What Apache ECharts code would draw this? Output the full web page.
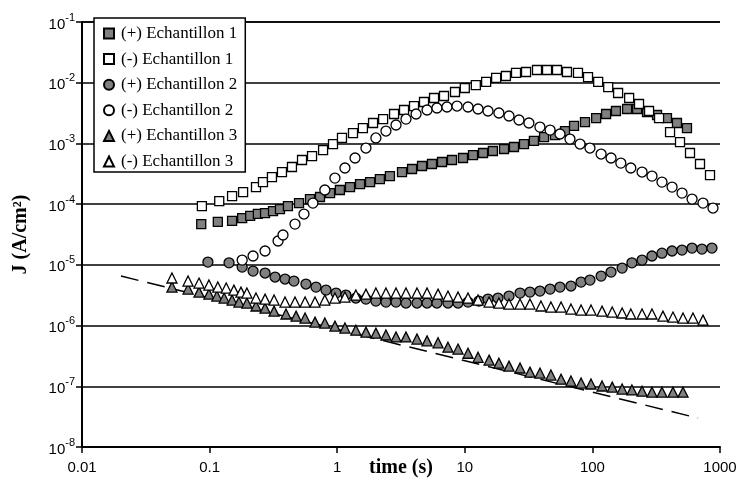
<!DOCTYPE html>
<html><head><meta charset="utf-8">
<script src="https://cdn.jsdelivr.net/npm/echarts/dist/echarts.min.js"></script>
<style>html,body{margin:0;padding:0;background:#fff}#c{width:739px;height:478px}</style>
</head><body><div id="c"></div>
<script>
// ---- data ----
var seriesNames = ['(+) Echantillon 1','(-) Echantillon 1','(+) Echantillon 2','(-) Echantillon 2','(+) Echantillon 3','(-) Echantillon 3'];
var xTickLabels = ['0.01','0.1','1','10','100','1000'];
var yTickExp = ['-8','-7','-6','-5','-4','-3','-2','-1'];

var s1p_t = [0.086,0.116,0.150,0.180,0.208,0.239,0.272,0.314,0.356,0.411,0.502,0.612,0.733,0.879,1.05,1.26,1.51,1.81,2.16,2.59,3.22,3.86,4.62,5.53,6.63,7.94,9.68,11.6,13.9,16.6,20.3,24.3,29.1,34.8,41.8,50.9,61.0,71.8,87.5,107,128,153,187,224,268,321,384,460,551];
var s1p_j = [4.7e-5,5.1e-5,5.3e-5,5.9e-5,6.4e-5,6.9e-5,7.1e-5,7.7e-5,8.3e-5,9.3e-5,1.04e-4,1.21e-4,1.31e-4,1.52e-4,1.71e-4,1.91e-4,2.14e-4,2.31e-4,2.59e-4,2.90e-4,3.38e-4,3.79e-4,4.25e-4,4.58e-4,4.94e-4,5.33e-4,5.75e-4,6.44e-4,6.95e-4,7.50e-4,8.09e-4,8.73e-4,9.77e-4,1.10e-3,1.27e-3,1.37e-3,1.60e-3,1.94e-3,2.25e-3,2.62e-3,3.05e-3,3.42e-3,3.69e-3,3.69e-3,3.29e-3,2.94e-3,2.62e-3,2.17e-3,1.79e-3];

var s1m_t = [0.087,0.119,0.150,0.183,0.231,0.262,0.308,0.369,0.442,0.530,0.635,0.775,0.927,1.09,1.33,1.59,1.91,2.29,2.79,3.34,4.00,4.79,5.74,6.87,8.38,10.0,12.2,14.7,17.6,21.0,25.2,30.2,36.8,44.1,52.8,63.2,77.1,92.4,111,133,159,194,232,278,333,406,486,582,697,835];
var s1m_j = [9.3e-5,1.12e-4,1.36e-4,1.58e-4,1.91e-4,2.31e-4,2.79e-4,3.38e-4,4.09e-4,5.33e-4,6.20e-4,7.78e-4,9.77e-4,1.23e-3,1.48e-3,1.79e-3,2.17e-3,2.52e-3,3.05e-3,3.55e-3,4.13e-3,4.81e-3,5.60e-3,6.04e-3,7.03e-3,8.18e-3,9.16e-3,1.03e-2,1.20e-2,1.29e-2,1.45e-2,1.50e-2,1.62e-2,1.62e-2,1.62e-2,1.50e-2,1.45e-2,1.24e-2,1.03e-2,8.49e-3,6.77e-3,5.60e-3,4.46e-3,3.42e-3,2.62e-3,1.54e-3,1.05e-3,6.95e-4,4.58e-4,3.01e-4];

var s2p_t = [0.097,0.142,0.180,0.219,0.272,0.326,0.390,0.458,0.569,0.682,0.817,0.979,1.17,1.40,1.68,2.01,2.41,2.89,3.46,4.22,5.06,6.05,7.38,8.85,10.6,12.9,15.2,18.2,22.2,27.1,32.4,38.8,46.6,55.7,67.9,81.5,95.7,117,140,171,204,245,293,351,421,504,604,722,865];
var s2p_j = [1.11e-5,1.08e-5,9.2e-6,7.9e-6,7.33e-6,6.3e-6,5.84e-6,5.41e-6,4.83e-6,4.31e-6,3.84e-6,3.43e-6,3.18e-6,2.84e-6,2.73e-6,2.53e-6,2.44e-6,2.44e-6,2.35e-6,2.35e-6,2.35e-6,2.35e-6,2.35e-6,2.35e-6,2.44e-6,2.53e-6,2.73e-6,2.84e-6,3.06e-6,3.43e-6,3.56e-6,3.70e-6,3.99e-6,4.31e-6,4.48e-6,5.21e-6,5.62e-6,6.54e-6,7.60e-6,8.85e-6,1.08e-5,1.20e-5,1.40e-5,1.56e-5,1.69e-5,1.75e-5,1.89e-5,1.82e-5,1.89e-5];

var s2m_t = [0.180,0.219,0.272,0.344,0.376,0.467,0.549,0.645,0.80,0.96,1.15,1.38,1.68,2.01,2.41,2.89,3.46,4.15,5.06,6.05,7.25,8.69,10.6,12.7,15.2,18.5,22.2,26.6,31.8,38.8,46.6,55.7,66.7,80.0,95.7,117,140,167,200,245,293,351,421,504,604,736,881];
var s2m_j = [1.20e-5,1.40e-5,1.69e-5,2.47e-5,3.10e-5,4.70e-5,6.87e-5,1.04e-4,1.71e-4,2.69e-4,3.94e-4,5.75e-4,8.40e-4,1.23e-3,1.60e-3,2.01e-3,2.52e-3,3.05e-3,3.55e-3,3.83e-3,3.98e-3,4.13e-3,3.98e-3,3.69e-3,3.42e-3,3.17e-3,2.83e-3,2.43e-3,2.17e-3,1.86e-3,1.66e-3,1.43e-3,1.18e-3,9.77e-4,8.40e-4,6.69e-4,5.75e-4,4.75e-4,3.94e-4,3.38e-4,2.90e-4,2.31e-4,1.91e-4,1.52e-4,1.21e-4,1.04e-4,8.63e-5];

var s3p_t = [0.0507,0.0678,0.0826,0.0988,0.114,0.130,0.150,0.170,0.196,0.231,0.272,0.320,0.397,0.476,0.560,0.670,0.80,0.96,1.15,1.40,1.68,2.01,2.41,2.89,3.46,4.22,5.06,6.17,7.38,8.85,10.6,12.7,15.5,18.5,22.2,27.1,32.4,38.8,47.3,56.8,67.9,81.5,97.5,119,143,171,204,245,293,351,428,513];
var s3p_j = [4.31e-6,3.99e-6,3.56e-6,3.30e-6,3.06e-6,2.84e-6,2.63e-6,2.44e-6,2.35e-6,2.10e-6,1.94e-6,1.73e-6,1.55e-6,1.43e-6,1.33e-6,1.14e-6,1.10e-6,9.8e-7,9.1e-7,8.4e-7,7.8e-7,7.5e-7,7.0e-7,6.5e-7,6.5e-7,6.0e-7,5.6e-7,5.2e-7,4.4e-7,4.1e-7,3.5e-7,3.0e-7,2.7e-7,2.4e-7,2.15e-7,2.0e-7,1.71e-7,1.65e-7,1.53e-7,1.31e-7,1.22e-7,1.13e-7,1.09e-7,1.01e-7,9.7e-8,9.0e-8,8.7e-8,8.3e-8,8.0e-8,8.0e-8,8.0e-8,8.0e-8];

var s3m_t = [0.0507,0.0678,0.0826,0.0988,0.116,0.135,0.155,0.176,0.196,0.231,0.272,0.320,0.390,0.467,0.560,0.670,0.80,0.96,1.15,1.40,1.68,2.01,2.41,2.89,3.46,4.22,5.06,6.17,7.38,8.85,10.6,12.7,15.5,18.5,22.2,27.1,32.4,39.5,47.3,56.8,67.9,81.5,97.5,119,143,171,200,245,293,357,428,513,614,736];
var s3m_j = [6.07e-6,5.41e-6,5.01e-6,4.65e-6,4.31e-6,4.15e-6,3.84e-6,3.56e-6,3.43e-6,2.84e-6,2.73e-6,2.63e-6,2.44e-6,2.44e-6,2.44e-6,2.44e-6,2.63e-6,2.84e-6,2.95e-6,3.18e-6,3.30e-6,3.43e-6,3.43e-6,3.43e-6,3.43e-6,3.43e-6,3.43e-6,3.30e-6,3.06e-6,2.95e-6,2.84e-6,2.63e-6,2.44e-6,2.35e-6,2.26e-6,2.26e-6,2.26e-6,2.10e-6,2.02e-6,2.02e-6,1.87e-6,1.80e-6,1.80e-6,1.73e-6,1.67e-6,1.61e-6,1.55e-6,1.55e-6,1.55e-6,1.43e-6,1.38e-6,1.33e-6,1.33e-6,1.23e-6];

var fit_t = [0.0202, 673];
var fit_j = [6.54e-6, 2.99e-8];

// ---- chart ----
function zip(t, j) { return t.map(function (x, i) { return [x, j[i]]; }); }
var GRAY = '#808080';
function sc(name, t, j, symbol, size, fill) {
  return {
    type: 'scatter', name: name, data: zip(t, j), symbol: symbol, symbolSize: size,
    itemStyle: { color: fill, borderColor: '#000', borderWidth: 1.3, opacity: 1 },
    emphasis: { disabled: true }, animation: false
  };
}
var serif = '"Liberation Serif","Times New Roman",serif';
var sans = '"Liberation Sans",Arial,sans-serif';

var chart = echarts.init(document.getElementById('c'), null, { renderer: 'canvas' });
chart.setOption({
  backgroundColor: '#fff',
  animation: false,
  grid: { left: 82, right: 19, top: 22, bottom: 31, containLabel: false, outerBoundsMode: 'none' },
  legend: {
    data: seriesNames, orient: 'vertical', left: 94, top: 18,
    itemWidth: 10, itemHeight: 10, itemGap: 8.6,
    padding: [7, 8, 2, 9],
    backgroundColor: '#fff', borderColor: '#000', borderWidth: 1.5,
    selectedMode: false,
    textStyle: { fontFamily: serif, fontSize: 17, color: '#000', padding: [0, 0, 0, 2] }
  },
  xAxis: {
    type: 'log', logBase: 10, min: 0.01, max: 1000, splitNumber: 5,
    name: 'time (s)', nameLocation: 'middle', nameGap: 11, nameMoveOverlap: false,
    nameTextStyle: { fontFamily: serif, fontWeight: 'bold', fontSize: 20, color: '#000', verticalAlign: 'top' },
    axisLine: { show: true, lineStyle: { color: '#000', width: 2 } },
    axisTick: { show: true, length: 6, lineStyle: { color: '#000', width: 1.5 } },
    minorTick: { show: false },
    splitLine: { show: false },
    axisLabel: {
      margin: 13, color: '#000', fontFamily: sans, fontSize: 15,
      formatter: function (v) { return xTickLabels[Math.round(Math.log10(v)) + 2]; }
    }
  },
  yAxis: {
    type: 'log', logBase: 10, min: 1e-8, max: 1e-1, splitNumber: 7,
    name: 'J (A/cm\u00B2)', nameLocation: 'middle', nameGap: 51, nameMoveOverlap: false,
    nameTextStyle: { fontFamily: serif, fontWeight: 'bold', fontSize: 20, color: '#000' },
    axisLine: { show: true, lineStyle: { color: '#000', width: 2 } },
    axisTick: { show: true, length: 6, lineStyle: { color: '#000', width: 1.5 } },
    minorTick: { show: false },
    splitLine: { show: true, lineStyle: { color: '#000', width: 1.5 } },
    axisLabel: {
      margin: 7, color: '#000',
      formatter: function (v) { return '{b|10}{s|' + yTickExp[Math.round(Math.log10(v)) + 8] + '}'; },
      rich: {
        b: { fontFamily: sans, fontSize: 15, color: '#000', lineHeight: 20, verticalAlign: 'bottom' },
        s: { fontFamily: sans, fontSize: 11, color: '#000', lineHeight: 20, verticalAlign: 'top' }
      }
    }
  },
  series: [
    sc(seriesNames[0], s1p_t, s1p_j, 'rect', 9, GRAY),
    sc(seriesNames[1], s1m_t, s1m_j, 'rect', 9, '#fff'),
    sc(seriesNames[2], s2p_t, s2p_j, 'circle', 10, GRAY),
    sc(seriesNames[3], s2m_t, s2m_j, 'circle', 10, '#fff'),
    sc(seriesNames[4], s3p_t, s3p_j, 'triangle', 10, GRAY),
    sc(seriesNames[5], s3m_t, s3m_j, 'triangle', 10, '#fff'),
    {
      type: 'line', name: 'fit', data: zip(fit_t, fit_j), symbol: 'none', silent: true,
      lineStyle: { color: '#000', width: 1.5, type: [18, 9] }, z: 1, animation: false
    }
  ]
});
</script></body></html>
